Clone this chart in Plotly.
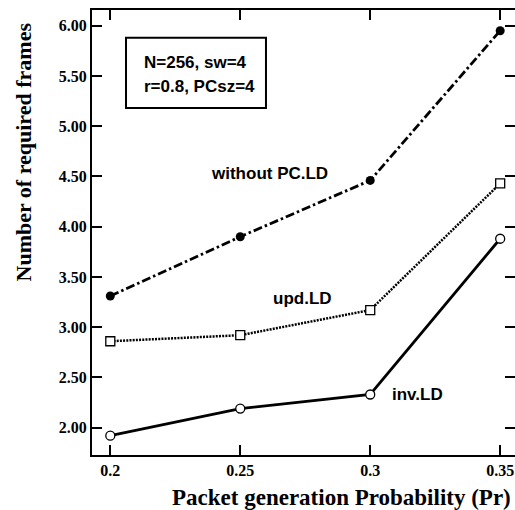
import plotly.graph_objects as go

pr = [0.2, 0.25, 0.3, 0.35]
pr_labels = ["0.2", "0.25", "0.3", "0.35"]
without_pc = [3.31, 3.90, 4.46, 5.95]
upd_ld = [2.86, 2.92, 3.17, 4.43]
inv_ld = [1.92, 2.19, 2.33, 3.88]
y_ticks = [2.0, 2.5, 3.0, 3.5, 4.0, 4.5, 5.0, 5.5, 6.0]

YR = [1.728, 6.156]
XR = [0.19296, 0.3557]

fig = go.Figure()
fig.add_trace(go.Scatter(x=pr, y=without_pc, mode="lines+markers",
                         line=dict(color="black", width=2.8, dash="9px,3px,2.5px,3px"),
                         marker=dict(symbol="circle", size=9, color="black"),
                         showlegend=False))
fig.add_trace(go.Scatter(x=pr, y=upd_ld, mode="lines+markers",
                         line=dict(color="black", width=2.5, dash="2px,1.2px"),
                         marker=dict(symbol="square", size=9, color="white",
                                     line=dict(color="black", width=1.3)),
                         showlegend=False))
fig.add_trace(go.Scatter(x=pr, y=inv_ld, mode="lines+markers",
                         line=dict(color="black", width=2.8),
                         marker=dict(symbol="circle", size=9, color="white",
                                     line=dict(color="black", width=1.3)),
                         showlegend=False))
fig.add_trace(go.Scatter(x=[None], y=[None], yaxis="y2", showlegend=False,
                         hoverinfo="skip"))

tickfont = dict(family="Liberation Serif", size=16, color="black", weight="bold")
lab = dict(family="Liberation Sans", size=17, color="black", weight="bold")

fig.update_layout(
    width=515, height=510,
    margin=dict(l=92, r=0, t=10, b=55),
    paper_bgcolor="white", plot_bgcolor="white",
    xaxis=dict(range=XR, tickvals=pr, ticktext=pr_labels, ticks="inside",
               ticklen=10, tickwidth=2, tickcolor="black", showline=True,
               linecolor="black", linewidth=2, mirror="ticks", showgrid=False,
               zeroline=False, tickfont=tickfont),
    yaxis=dict(range=YR, tickvals=y_ticks, tickformat=".2f", ticks="inside",
               ticklen=10, tickwidth=2, tickcolor="black", showline=True,
               linecolor="black", linewidth=2, showgrid=False, zeroline=False,
               tickfont=tickfont),
    yaxis2=dict(range=YR, tickvals=y_ticks, overlaying="y", side="right",
                ticks="inside", ticklen=10, tickwidth=2, tickcolor="black",
                showline=False, showticklabels=False, showgrid=False,
                zeroline=False),
    font=dict(family="Liberation Serif", color="black"),
)

fig.add_shape(type="rect", xref="paper", yref="paper",
              x0=0.0804, x1=0.4113, y0=0.7798, y1=0.9378,
              line=dict(color="black", width=2), fillcolor="white")
fig.add_annotation(xref="paper", yref="paper", x=0.1174, y=0.8809,
                   xanchor="left", yanchor="middle", showarrow=False,
                   text="N=256, sw=4", font=lab)
fig.add_annotation(xref="paper", yref="paper", x=0.1174, y=0.827,
                   xanchor="left", yanchor="middle", showarrow=False,
                   text="r=0.8, PCsz=4", font=lab)

fig.add_annotation(x=0.2614, y=4.534, text="without PC.LD", showarrow=False, font=lab)
fig.add_annotation(x=0.2739, y=3.29, text="upd.LD", showarrow=False, font=lab)
fig.add_annotation(x=0.3182, y=2.335, text="inv.LD", showarrow=False, font=lab)

fig.add_annotation(xref="paper", yref="paper", x=0.5898, y=-0.0966,
                   xanchor="center", yanchor="middle", showarrow=False,
                   text="Packet generation Probability (Pr)",
                   font=dict(family="Liberation Serif", size=23, color="black", weight="bold"))
fig.add_annotation(xref="paper", yref="paper", x=-0.1631, y=0.6798,
                   xanchor="center", yanchor="middle", showarrow=False,
                   textangle=-90, text="Number of required frames",
                   font=dict(family="Liberation Serif", size=22, color="black", weight="bold"))

fig.write_html("out.html", config={"displayModeBar": False},
               post_script="document.body.style.margin='0';")
